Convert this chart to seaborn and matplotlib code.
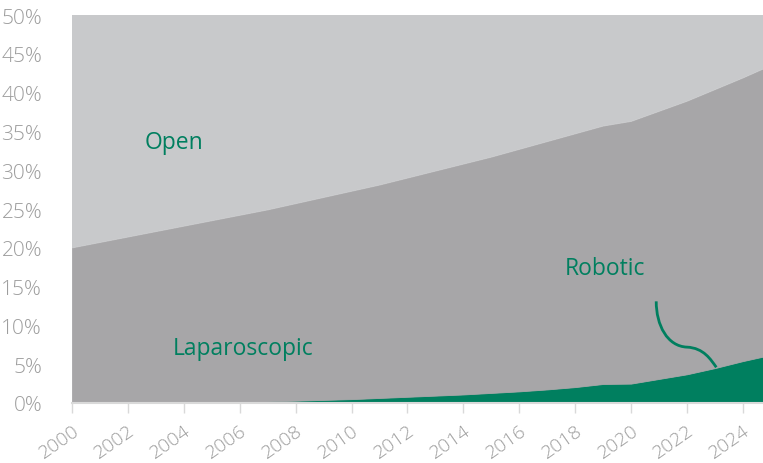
import numpy as np
import matplotlib
matplotlib.use("Agg")
import matplotlib.pyplot as plt
from matplotlib.path import Path
from matplotlib.patches import PathPatch
import seaborn as sns

# shares of procedures (%)
years = list(range(2000, 2026))
total_mis = [20.0, 20.7, 21.4, 22.1, 22.8, 23.5, 24.2, 24.9, 25.7, 26.5,
             27.3, 28.1, 29.0, 29.9, 30.8, 31.7, 32.7, 33.7, 34.7, 35.7,
             36.3, 37.6, 38.9, 40.4, 41.9, 43.5]
robotic = [0.0, 0.0, 0.0, 0.0, 0.0, 0.02, 0.1, 0.2, 0.3, 0.4,
           0.5, 0.65, 0.8, 0.95, 1.1, 1.3, 1.5, 1.75, 2.05, 2.45,
           2.5, 3.1, 3.7, 4.5, 5.4, 6.2]
laparoscopic = [t - r for t, r in zip(total_mis, robotic)]
open_surgery = [100 - t for t in total_mis]

xticks = list(range(2000, 2025, 2))
yticks = list(range(0, 55, 5))

green = "#007f5f"
grey_text = "#9d9d9d"
colors = [green, "#a7a6a8", "#c8c9cb"]

sns.set_style("white")
plt.rcParams['font.family'] = ['Open Sans', 'DejaVu Sans']

fig = plt.figure(figsize=(7.63, 4.64), dpi=100)
ax = fig.add_axes([72 / 763, 60 / 464, 1 - 72 / 763, (404 - 16) / 464])

# edges drawn in the face colour to hide seams between the layers
polys = ax.stackplot(years, robotic, laparoscopic, open_surgery, colors=colors)
for p, c in zip(polys, colors):
    p.set_edgecolor(c)
    p.set_linewidth(0.6)

ax.set_xlim(2000, 2024.72)
ax.set_ylim(0, 50)
ax.set_xticks(xticks)
ax.set_yticks(yticks)
ax.set_yticklabels([f"{v}%" for v in yticks])
ax.set_xticklabels([str(v) for v in xticks], rotation=35, ha="right",
                   rotation_mode="anchor")

for s in ["top", "right", "left"]:
    ax.spines[s].set_visible(False)
ax.spines["bottom"].set_color("#d9d9d9")
ax.spines["bottom"].set_linewidth(1.5)
ax.spines["bottom"].set_zorder(3)

ax.tick_params(axis="x", which="both", bottom=True, length=7, width=1,
               color="#d9d9d9", labelcolor=grey_text, labelsize=14, pad=6)
ax.tick_params(axis="y", left=False, labelcolor=grey_text, labelsize=15, pad=18)
for lbl in ax.get_xticklabels() + ax.get_yticklabels():
    lbl.set_fontweight("light")

ax.text(2002.6, 33.6, "Open", color=green, fontsize=16.5, va="center")
ax.text(2003.6, 7.1, "Laparoscopic", color=green, fontsize=16.5, va="center")
ax.text(2017.64, 17.4, "Robotic", color=green, fontsize=16.5, va="center")

# S-shaped leader line from the Robotic label down to its area
verts = [(2020.9, 13.1), (2020.9, 10.0), (2021.3, 7.3), (2022.0, 7.2),
         (2022.6, 7.1), (2022.85, 5.6), (2023.05, 4.6)]
codes = [Path.MOVETO] + [Path.CURVE4] * 6
ax.add_patch(PathPatch(Path(verts, codes), fill=False, edgecolor=green, lw=2))

fig.savefig("out.png", dpi=100)
plt.close(fig)
